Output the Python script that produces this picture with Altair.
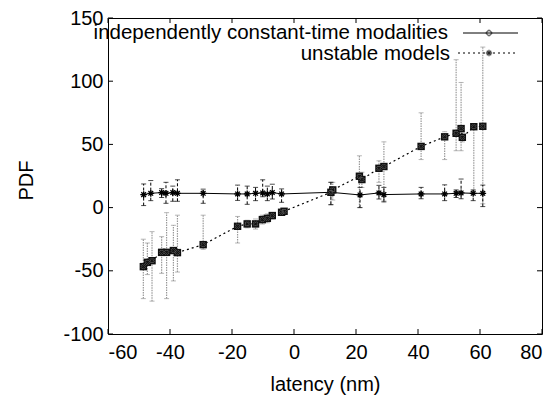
import altair as alt
import pandas as pd

# ---- data ----
s1_name = "independently constant-time modalities"
s2_name = "unstable models"

x1 = [-48.5, -46.2, -42.7, -41.3, -39.1, -37.6, -29.3, -18.2, -15.1, -12.4, -10.1, -8.6, -7.0, -4.0,
      11.9, 21.3, 27.4, 29.0, 41.0, 48.6, 52.3, 53.9, 57.8, 60.9]
y1 = [10.3, 11.3, 11.9, 11.3, 11.9, 11.3, 11.3, 10.8, 10.8, 11.3, 11.6, 10.8, 11.9, 10.8,
      12.1, 10.0, 11.6, 10.3, 10.8, 10.8, 11.3, 11.6, 11.3, 11.3]
lo1 = [1.6, 5.5, 8.0, 3.4, 5.0, 5.0, 3.4, 5.7, 2.6, 5.5, 8.6, 5.5, 6.8, 4.2,
       2.4, 0.0, 6.8, 5.0, 7.0, 5.5, 8.0, 7.0, 5.5, 0.8]
hi1 = [18.7, 21.4, 15.0, 20.0, 17.0, 22.0, 14.6, 17.8, 17.0, 16.0, 22.0, 17.0, 18.5, 14.8,
       20.0, 16.0, 17.6, 16.0, 16.0, 18.0, 14.0, 22.6, 14.0, 17.8]

x2 = [-48.6, -47.3, -45.8, -42.7, -41.1, -38.9, -37.6, -29.3, -18.2, -15.1, -12.4, -10.2, -8.6, -7.0,
      -4.0, -3.2, 11.9, 12.5, 21.1, 21.9, 27.4, 29.0, 41.0, 48.6, 52.3, 53.9, 54.3, 58.0, 60.9]
y2 = [-46.7, -43.3, -42.0, -35.4, -35.4, -34.0, -35.6, -29.3, -14.8, -12.9, -12.9, -9.5, -8.5, -6.3,
      -3.7, -2.9, 12.1, 14.0, 24.8, 22.2, 31.1, 32.5, 48.4, 56.0, 58.8, 62.5, 55.6, 64.0, 64.3]
lo2 = [-72, -53, -74, -52, -72, -58, -51, -33, -28, -16, -17, -13, -12, -9,
       -6, -5, 2, 6, 0, 16, 20, 4, 38, 38, 45, 45, 52, 11, 3]
hi2 = [-25, -28, -19, -23, -4, -14, -6, -6, -7, -10, -9, -6, -5, -4,
       -2, -1, 20, 20, 41, 28, 37, 52, 75, 60, 117, 99, 60, 65, 127]

x_ticks = [-60, -40, -20, 0, 20, 40, 60, 80]
y_ticks = [-100, -50, 0, 50, 100, 150]

W, H = 434, 316
FONT = "Liberation Sans"
FS = 20
KFS = 20.5

d1 = pd.DataFrame({"x": x1, "y": y1, "lo": lo1, "hi": hi1})
d2 = pd.DataFrame({"x": x2, "y": y2, "lo": lo2, "hi": hi2})
dxt = pd.DataFrame({"v": x_ticks})
dyt = pd.DataFrame({"v": y_ticks})
one = pd.DataFrame({"k": [0]})

xs = alt.Scale(domain=[-60, 80], nice=False, zero=False)
ys = alt.Scale(domain=[-100, 150], nice=False, zero=False)

X = alt.X("x:Q", scale=xs, axis=alt.Axis(values=x_ticks, title="latency (nm)", ticks=False,
                                         domain=False, grid=False, labelPadding=8,
                                         titlePadding=12, labelExpr="'' + datum.value",
                                         labelFont=FONT, labelFontSize=FS, labelColor="black",
                                         titleFont=FONT, titleFontSize=FS, titleColor="black",
                                         titleFontWeight="normal"))
Y = alt.Y("y:Q", scale=ys, axis=alt.Axis(values=y_ticks, title="PDF", ticks=False,
                                         domain=False, grid=False, labelPadding=5,
                                         titleX=-72, titleY=162, labelExpr="'' + datum.value",
                                         labelFont=FONT, labelFontSize=FS, labelColor="black",
                                         titleFont=FONT, titleFontSize=FS, titleColor="black",
                                         titleFontWeight="normal"))

asterisk = "M-1,0L1,0M0,-1L0,1M-0.7,-0.7L0.7,0.7M-0.7,0.7L0.7,-0.7"

# series 1
l1 = alt.Chart(d1).mark_line(color="black", strokeWidth=1).encode(x=X, y=Y)
e1 = alt.Chart(d1).mark_rule(color="black", strokeWidth=1, strokeDash=[3, 2]).encode(
    x=alt.X("x:Q", scale=xs), y=alt.Y("lo:Q", scale=ys), y2="hi:Q")
c1a = alt.Chart(d1).mark_tick(orient="horizontal", color="black", size=5, thickness=1).encode(
    x=alt.X("x:Q", scale=xs), y=alt.Y("lo:Q", scale=ys))
c1b = alt.Chart(d1).mark_tick(orient="horizontal", color="black", size=5, thickness=1).encode(
    x=alt.X("x:Q", scale=xs), y=alt.Y("hi:Q", scale=ys))
p1 = alt.Chart(d1).mark_point(shape=asterisk, size=45, color="black", filled=False,
                              strokeWidth=1.3, opacity=1).encode(
    x=alt.X("x:Q", scale=xs), y=alt.Y("y:Q", scale=ys))

# series 2
l2 = alt.Chart(d2).mark_line(color="black", strokeWidth=1.2, strokeDash=[2, 3]).encode(
    x=alt.X("x:Q", scale=xs), y=alt.Y("y:Q", scale=ys))
e2 = alt.Chart(d2).mark_rule(color="#999999", strokeWidth=1.2, strokeDash=[1.5, 1]).encode(
    x=alt.X("x:Q", scale=xs), y=alt.Y("lo:Q", scale=ys), y2="hi:Q")
c2a = alt.Chart(d2).mark_tick(orient="horizontal", color="#999999", size=5, thickness=1).encode(
    x=alt.X("x:Q", scale=xs), y=alt.Y("lo:Q", scale=ys))
c2b = alt.Chart(d2).mark_tick(orient="horizontal", color="#999999", size=5, thickness=1).encode(
    x=alt.X("x:Q", scale=xs), y=alt.Y("hi:Q", scale=ys))
p2 = alt.Chart(d2).mark_square(size=55, color="#111111", opacity=1).encode(
    x=alt.X("x:Q", scale=xs), y=alt.Y("y:Q", scale=ys))
p2x = alt.Chart(d2).mark_point(shape="cross", size=20, color="#777777", filled=False,
                               strokeWidth=0.8, angle=45).encode(
    x=alt.X("x:Q", scale=xs), y=alt.Y("y:Q", scale=ys))

# inward ticks on all four sides
tb = alt.Chart(dxt).mark_rule(color="black").encode(
    x=alt.X("v:Q", scale=xs), y=alt.value(H), y2=alt.value(H - 5))
tt = alt.Chart(dxt).mark_rule(color="black").encode(
    x=alt.X("v:Q", scale=xs), y=alt.value(0), y2=alt.value(5))
tl = alt.Chart(dyt).mark_rule(color="black").encode(
    y=alt.Y("v:Q", scale=ys), x=alt.value(0), x2=alt.value(5))
tr = alt.Chart(dyt).mark_rule(color="black").encode(
    y=alt.Y("v:Q", scale=ys), x=alt.value(W), x2=alt.value(W - 5))

# key (gnuplot style: text left of sample)
k1t = alt.Chart(one).mark_text(align="right", baseline="middle", font=FONT, fontSize=KFS,
                               color="black").encode(
    x=alt.value(340), y=alt.value(14.5), text=alt.value(s1_name))
k2t = alt.Chart(one).mark_text(align="right", baseline="middle", font=FONT, fontSize=KFS,
                               color="black").encode(
    x=alt.value(342), y=alt.value(36), text=alt.value(s2_name))
k1l = alt.Chart(one).mark_rule(color="black", strokeWidth=1).encode(
    x=alt.value(355), x2=alt.value(410), y=alt.value(15))
k1p = alt.Chart(one).mark_point(shape="cross", size=30, color="black", filled=False,
                                strokeWidth=1).encode(x=alt.value(381), y=alt.value(15))
k2l = alt.Chart(one).mark_rule(color="black", strokeWidth=1.2, strokeDash=[2, 3]).encode(
    x=alt.value(350), x2=alt.value(410), y=alt.value(35))
k2p = alt.Chart(one).mark_point(shape=asterisk, size=40, color="black", filled=False,
                                strokeWidth=1.3).encode(x=alt.value(381), y=alt.value(35))

chart = alt.layer(
    e2, c2a, c2b, e1, c1a, c1b, l1, l2, p1, p2, p2x,
    tb, tt, tl, tr, k1t, k2t, k1l, k1p, k2l, k2p
).properties(
    width=W, height=H,
    background="white",
    autosize=alt.AutoSizeParams(type="none"),
    padding={"left": 100, "top": 10, "right": 8, "bottom": 62},
).configure_view(
    stroke="black", strokeWidth=1
)

chart.save("out.html", embed_options={"renderer": "svg", "actions": False})
